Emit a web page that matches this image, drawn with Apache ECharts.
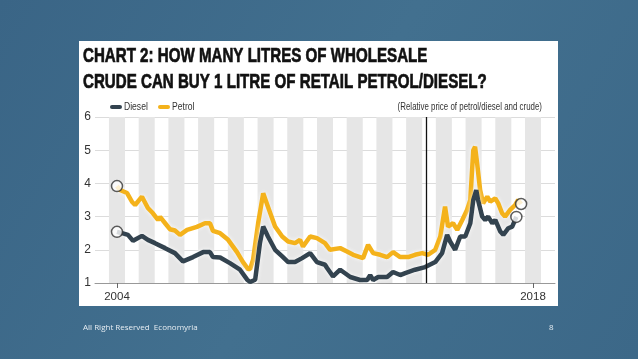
<!DOCTYPE html>
<html><head><meta charset="utf-8">
<script src="https://cdn.jsdelivr.net/npm/echarts@6/dist/echarts.min.js"></script>
<style>html,body{margin:0;padding:0;}#c{width:638px;height:359px;}</style>
</head><body><div id="c"></div>
<script>
const titleText = 'CHART 2: HOW MANY LITRES OF WHOLESALE\nCRUDE CAN BUY 1 LITRE OF RETAIL PETROL/DIESEL?';
const noteText = '(Relative price of petrol/diesel and crude)';
const footerText = 'All Right Reserved  Economyria';
const pageNumber = '8';
const xTickLabels = [2004, 2018];
const bandYears = [2004,2005,2006,2007,2008,2009,2010,2011,2012,2013,2014,2015,2016,2017,2018];
const eventYear = 2014.4;
const seriesNames = ['Diesel', 'Petrol'];
const seriesColors = ['#33434f', '#f4b21b'];

const petrol = [
 [2004.00,3.92],[2004.10,3.80],[2004.34,3.71],[2004.51,3.44],[2004.61,3.35],[2004.84,3.60],
 [2005.04,3.26],[2005.21,3.10],[2005.38,2.90],[2005.45,2.99],[2005.62,2.80],[2005.78,2.62],
 [2005.95,2.58],[2006.12,2.45],[2006.36,2.60],[2006.69,2.69],[2006.96,2.80],[2007.13,2.80],
 [2007.23,2.57],[2007.47,2.50],[2007.74,2.30],[2008.04,1.93],[2008.24,1.63],[2008.41,1.42],
 [2008.48,1.42],[2008.58,1.70],[2008.75,2.80],[2008.92,3.70],[2009.08,3.30],[2009.32,2.70],
 [2009.56,2.40],[2009.76,2.25],[2009.99,2.20],[2010.16,2.30],[2010.26,2.10],[2010.50,2.40],
 [2010.73,2.35],[2011.00,2.20],[2011.17,2.00],[2011.51,2.05],[2011.74,1.95],[2011.95,1.85],
 [2012.28,1.75],[2012.45,2.15],[2012.62,1.90],[2012.86,1.85],[2013.09,1.78],[2013.29,1.93],
 [2013.53,1.78],[2013.80,1.78],[2014.03,1.85],[2014.27,1.90],[2014.47,1.85],[2014.71,2.00],
 [2014.88,2.40],[2015.04,3.30],[2015.14,2.70],[2015.31,2.80],[2015.45,2.60],[2015.62,2.90],
 [2015.78,3.20],[2015.89,3.50],[2015.99,5.00],[2016.05,5.10],[2016.12,4.60],[2016.22,3.80],
 [2016.32,3.40],[2016.46,3.60],[2016.56,3.45],[2016.73,3.55],[2016.83,3.40],[2016.96,3.10],
 [2017.06,3.00],[2017.23,3.20],[2017.40,3.35],[2017.50,3.50],[2017.60,3.38]
];
const diesel = [
 [2004.00,2.54],[2004.17,2.50],[2004.37,2.45],[2004.54,2.27],[2004.84,2.42],[2005.04,2.30],
 [2005.28,2.20],[2005.62,2.05],[2005.95,1.90],[2006.22,1.65],[2006.56,1.78],[2006.90,1.93],
 [2007.13,1.93],[2007.23,1.78],[2007.47,1.77],[2007.80,1.60],[2008.14,1.40],[2008.38,1.10],
 [2008.48,1.03],[2008.65,1.10],[2008.81,2.20],[2008.92,2.70],[2009.08,2.40],[2009.32,2.00],
 [2009.56,1.80],[2009.76,1.63],[2009.99,1.63],[2010.23,1.75],[2010.50,1.90],[2010.73,1.63],
 [2011.00,1.55],[2011.07,1.45],[2011.27,1.20],[2011.51,1.40],[2011.85,1.18],[2012.18,1.09],
 [2012.42,1.09],[2012.52,1.24],[2012.62,1.09],[2012.79,1.18],[2013.09,1.18],[2013.29,1.33],
 [2013.53,1.24],[2013.70,1.30],[2014.03,1.40],[2014.37,1.48],[2014.71,1.63],[2014.94,1.90],
 [2015.11,2.45],[2015.21,2.25],[2015.38,2.00],[2015.55,2.40],[2015.72,2.40],[2015.89,2.80],
 [2015.99,3.50],[2016.09,3.80],[2016.15,3.50],[2016.29,3.00],[2016.39,2.90],[2016.49,3.00],
 [2016.63,2.80],[2016.73,2.90],[2016.90,2.55],[2017.00,2.45],[2017.17,2.65],[2017.30,2.70],
 [2017.44,2.99]
];

const FONT = '"Liberation Sans",Arial,sans-serif';
const endPoints = [petrol[0], petrol[petrol.length-1], diesel[0], diesel[diesel.length-1]];

const legendGraphics = [];
const legendX = [110, 158];
seriesNames.forEach((n, i) => {
  legendGraphics.push({type:'rect', shape:{x:legendX[i], y:105, width:12, height:4, r:2}, style:{fill:seriesColors[i]}});
  legendGraphics.push({type:'text', x:legendX[i]+14, y:107, scaleX:0.78,
    style:{text:n, font:'11px ' + FONT, fill:'#333', textVerticalAlign:'middle'}});
});

const chart = echarts.init(document.getElementById('c'), null, {renderer:'canvas'});
chart.setOption({
  animation: false,
  backgroundColor: {type:'linear', x:0, y:0, x2:1, y2:1, colorStops:[{offset:0,color:'#3a6586'},{offset:0.5,color:'#42708f'},{offset:1,color:'#3c6888'}]},
  graphic: [
    {type:'rect', z:-10, shape:{x:79, y:41, width:479, height:265}, style:{fill:'#ffffff'}},
    {type:'text', x:83, y:43, scaleX:0.72,
      style:{text: titleText, font:'bold 21px ' + FONT, lineHeight:26, fill:'#111', stroke:'#111', lineWidth:0.7, textVerticalAlign:'top'}},
    {type:'text', x:542, y:107, scaleX:0.72,
      style:{text: noteText, font: '11px ' + FONT, fill:'#333', textAlign:'right', textVerticalAlign:'middle'}},
    {type:'text', left: 83, top: 324, style:{text: footerText, font: '8px "Open Sans",sans-serif', fill:'#e6edf2'}},
    {type:'text', left: 549, top: 324, style:{text: pageNumber, font: '8px "Open Sans",sans-serif', fill:'#e6edf2'}}
  ].concat(legendGraphics),
  legend: {show:false, data: seriesNames},
  grid: {left: 95, right: 83, top: 117, bottom: 76, containLabel:false},
  xAxis: {
    type:'value', min: 2003.26, max: 2018.74,
    axisLine: {show:true, lineStyle:{color:'#999', width:1}},
    axisTick: {show:true, customValues: xTickLabels, length:5, lineStyle:{color:'#666'}},
    axisLabel: {customValues: xTickLabels, color:'#333', fontFamily: FONT, fontSize: 11.5, margin: 8, formatter: v => String(v)},
    splitLine: {show:false}
  },
  yAxis: {
    type:'value', min:1, max:6, interval:1,
    axisLine:{show:false}, axisTick:{show:false},
    axisLabel:{color:'#333', fontFamily: FONT, fontSize: 12, margin: 4},
    splitLine:{lineStyle:{color:'#dcdcdc', width:1}}
  },
  series: [
    {
      name:'Petrol', type:'line', data: petrol, showSymbol:false, symbol:'none', z:3,
      color: seriesColors[1],
      lineStyle:{color: seriesColors[1], width:4.5, shadowColor:'rgba(255,255,255,0.9)', shadowBlur:4},
      markArea: {silent:true, itemStyle:{color:'#e6e6e6'},
        data: bandYears.map(y => [{xAxis: y - 0.27}, {xAxis: y + 0.27}])},
      markLine: {silent:true, symbol:['none','none'], label:{show:false},
        lineStyle:{color:'#111', width:1.3, type:'solid'},
        data:[{xAxis: eventYear}]}
    },
    {
      name:'Diesel', type:'line', data: diesel, showSymbol:false, symbol:'none', z:4,
      color: seriesColors[0],
      lineStyle:{color: seriesColors[0], width:4.5, shadowColor:'rgba(255,255,255,0.9)', shadowBlur:4}
    },
    {
      type:'scatter', data: endPoints, symbolSize: 11, z:6,
      itemStyle:{color:'#ffffff', borderColor:'#333', borderWidth:1.5}
    }
  ]
});
</script></body></html>
